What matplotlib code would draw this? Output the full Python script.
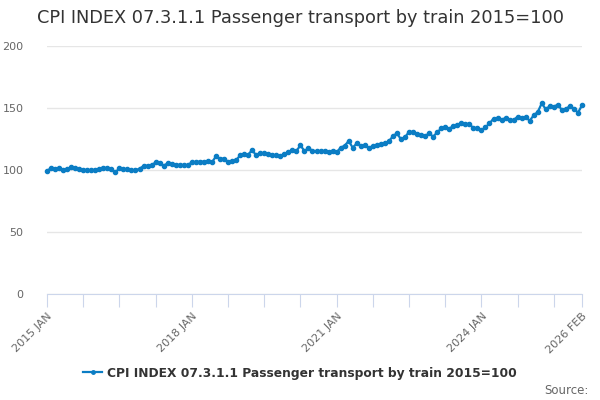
import numpy as np
import matplotlib
matplotlib.use("Agg")
import matplotlib.pyplot as plt

title = "CPI INDEX 07.3.1.1 Passenger transport by train 2015=100"

# monthly index values, 2015 JAN .. 2026 FEB
y2015 = [99.5, 101.3, 100.5, 101.3, 100.2, 100.5, 102.3, 101.3, 100.5, 100.2, 99.9, 99.9]
y2016 = [100.2, 101.0, 102.0, 101.3, 100.7, 98.0, 101.6, 100.5, 100.5, 99.9, 99.9, 101.0]
y2017 = [103.2, 103.5, 103.8, 106.2, 106.0, 103.5, 105.4, 104.6, 104.3, 104.0, 104.0, 104.0]
y2018 = [106.2, 106.5, 106.7, 106.7, 107.0, 106.2, 111.0, 109.1, 109.1, 106.7, 107.5, 107.8]
y2019 = [111.8, 112.6, 112.4, 116.1, 111.8, 113.4, 113.7, 112.9, 112.4, 111.8, 111.3, 112.9]
y2020 = [114.2, 116.1, 115.3, 119.9, 115.3, 117.6, 115.6, 115.1, 115.1, 115.4, 114.5, 115.6]
y2021 = [114.3, 118.0, 119.6, 123.4, 118.0, 121.5, 119.6, 120.2, 117.7, 119.4, 120.4, 121.2]
y2022 = [121.5, 123.1, 127.4, 129.6, 124.7, 126.3, 130.9, 130.6, 129.0, 128.5, 127.4, 129.6]
y2023 = [126.9, 130.4, 133.5, 134.4, 133.3, 135.5, 136.6, 137.6, 136.8, 137.4, 133.5, 134.1]
y2024 = [132.0, 134.4, 137.6, 141.4, 141.9, 140.1, 142.2, 140.3, 140.3, 143.0, 142.2, 142.5]
y2025 = [139.8, 144.1, 146.8, 153.8, 148.9, 151.6, 151.1, 152.7, 148.4, 149.2, 151.6, 149.5]
y2026 = [146.2, 152.2]

values = y2015 + y2016 + y2017 + y2018 + y2019 + y2020 + y2021 + y2022 + y2023 + y2024 + y2025 + y2026
months = np.arange(len(values))

tick_pos = list(range(0, len(values), 9)) + [len(values) - 1]
tick_labels = {0: "2015 JAN", 36: "2018 JAN", 72: "2021 JAN", 108: "2024 JAN", len(values) - 1: "2026 FEB"}

blue = "#0b7dc4"
axis_col = "#ccd6eb"

fig = plt.figure(figsize=(6, 4), dpi=100)
ax = fig.add_axes([47 / 600, 1 - 294 / 400, (582 - 47) / 600, (294 - 46) / 400])

ax.plot(months, values, color=blue, lw=1.6, marker="o", ms=3, clip_on=False,
        label=title, zorder=3)

ax.set_xlim(0, len(values) - 1)
ax.set_ylim(0, 200)
ax.set_yticks([0, 50, 100, 150, 200])
ax.grid(axis="y", color="#e6e6e6", lw=1)
ax.set_axisbelow(True)
for s in ["top", "right", "left"]:
    ax.spines[s].set_visible(False)
ax.spines["bottom"].set_color(axis_col)
ax.tick_params(axis="y", length=0, labelsize=8, labelcolor="#666666", pad=17)

ax.set_xticks(tick_pos)
ax.set_xticklabels([tick_labels.get(p, "") for p in tick_pos], rotation=45,
                   ha="right", rotation_mode="anchor", fontsize=8, color="#666666")
ax.tick_params(axis="x", length=9, color=axis_col, pad=3)

fig.text(37 / 600, 1 - 18 / 400, title, fontsize=12.8, color="#333333", va="center")

leg = fig.legend(loc="center", bbox_to_anchor=(0.5, 1 - 373 / 400), frameon=False,
                 prop={"weight": "bold", "size": 8.8}, handlelength=1.6, handletextpad=0.4)
for t in leg.get_texts():
    t.set_color("#333333")
for h in leg.legend_handles:
    h.set_markersize(2.5)

fig.text(589 / 600, 1 - 390 / 400, "Source:", fontsize=8.5, color="#666666",
         ha="right", va="center")

fig.savefig("out.png", dpi=100)
